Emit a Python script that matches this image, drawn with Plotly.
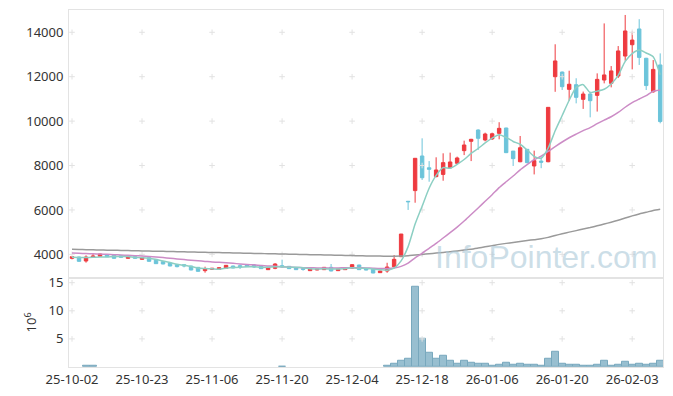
import plotly.graph_objects as go
from plotly.subplots import make_subplots

dates = [
    "25-10-02", "25-10-10", "25-10-13", "25-10-14", "25-10-15", "25-10-16", "25-10-17", "25-10-20", "25-10-21", "25-10-22",
    "25-10-23", "25-10-24", "25-10-27", "25-10-28", "25-10-29", "25-10-30", "25-10-31", "25-11-03", "25-11-04", "25-11-05",
    "25-11-06", "25-11-07", "25-11-10", "25-11-11", "25-11-12", "25-11-13", "25-11-14", "25-11-17", "25-11-18", "25-11-19",
    "25-11-20", "25-11-21", "25-11-24", "25-11-25", "25-11-26", "25-11-27", "25-11-28", "25-12-01", "25-12-02", "25-12-03",
    "25-12-04", "25-12-05", "25-12-08", "25-12-09", "25-12-10", "25-12-11", "25-12-12", "25-12-15", "25-12-16", "25-12-17",
    "25-12-18", "25-12-19", "25-12-22", "25-12-23", "25-12-24", "25-12-26", "25-12-29", "25-12-30", "26-01-02", "26-01-05",
    "26-01-06", "26-01-07", "26-01-08", "26-01-09", "26-01-12", "26-01-13", "26-01-14", "26-01-15", "26-01-16", "26-01-19",
    "26-01-20", "26-01-21", "26-01-22", "26-01-23", "26-01-26", "26-01-27", "26-01-28", "26-01-29", "26-01-30", "26-02-02",
    "26-02-03", "26-02-04", "26-02-05", "26-02-06", "26-02-09",
]

opens = [
    3820, 3880, 3700, 3865, 3910, 3970, 3955, 3940, 3820, 3895,
    3775, 3850, 3775, 3670, 3610, 3535, 3535, 3475, 3415, 3265,
    3325, 3325, 3370, 3475, 3490, 3520, 3520, 3490, 3310, 3370,
    3490, 3460, 3400, 3355, 3265, 3295, 3310, 3415, 3265, 3310,
    3370, 3520, 3355, 3325, 3175, 3250, 3440, 3895, 6390, 6870,
    8430, 7900, 7500, 7600, 7900, 8100, 8670, 9090, 9600, 9150,
    9200, 9450, 9690, 8650, 8170, 8730, 7980, 8200, 8170, 12000,
    12210, 11430, 11640, 10980, 11220, 11160, 11850, 11700, 12030, 12930,
    13440, 14150, 12830, 11320, 12530,
]
highs = [
    3925, 3895, 3955, 4030, 4030, 3985, 3960, 3950, 3905, 3905,
    3860, 3860, 3780, 3680, 3620, 3565, 3540, 3480, 3420, 3445,
    3385, 3410, 3520, 3490, 3535, 3530, 3565, 3500, 3425, 3600,
    3760, 3470, 3410, 3385, 3365, 3350, 3425, 3565, 3365, 3410,
    3550, 3530, 3365, 3335, 3260, 3620, 3970, 4915, 6400, 8325,
    9225, 8200, 8370, 8550, 8580, 8400, 9120, 9200, 9630, 9480,
    9480, 9950, 9700, 8650, 9330, 8740, 8670, 8400, 10620, 13460,
    12230, 12270, 11930, 11330, 11330, 12150, 14400, 12480, 13380, 14780,
    14030, 14590, 12850, 12750, 13050,
]
lows = [
    3775, 3670, 3625, 3835, 3900, 3880, 3810, 3850, 3810, 3810,
    3765, 3675, 3570, 3555, 3465, 3415, 3415, 3285, 3225, 3175,
    3310, 3315, 3360, 3375, 3340, 3435, 3385, 3345, 3300, 3330,
    3400, 3345, 3300, 3265, 3255, 3285, 3300, 3240, 3255, 3300,
    3360, 3300, 3285, 3150, 3165, 3170, 3420, 3880, 6000, 6325,
    7350, 7270, 7470, 7315, 7880, 8070, 8470, 8200, 8700, 9090,
    9150, 9180, 8560, 7980, 8150, 8100, 7600, 7880, 8150, 11320,
    11400, 10920, 10800, 10550, 10170, 10430, 11700, 11520, 11940, 12720,
    12330, 12530, 11400, 11280, 9900,
]
closes = [
    3895, 3685, 3880, 3925, 4015, 3895, 3820, 3865, 3895, 3820,
    3850, 3685, 3580, 3565, 3475, 3445, 3475, 3295, 3235, 3355,
    3370, 3400, 3505, 3385, 3445, 3445, 3430, 3355, 3415, 3565,
    3430, 3355, 3310, 3325, 3355, 3340, 3415, 3250, 3355, 3400,
    3535, 3310, 3295, 3160, 3250, 3430, 3775, 4915, 6370, 8325,
    7450, 7830, 7800, 8130, 8160, 8340, 8925, 9180, 9225, 9420,
    9430, 9675, 8580, 8310, 8800, 8130, 8220, 8150, 10620, 12710,
    11550, 11660, 11070, 11220, 10920, 11880, 12080, 12260, 13160, 14060,
    13650, 12870, 11600, 12330, 9980,
]

ma5 = [
    3870, 3860, 3855, 3865, 3880, 3880, 3907, 3904, 3898, 3859,
    3850, 3823, 3766, 3700, 3631, 3550, 3508, 3451, 3385, 3361,
    3346, 3331, 3373, 3403, 3421, 3436, 3442, 3412, 3418, 3442,
    3439, 3424, 3415, 3397, 3355, 3337, 3349, 3337, 3343, 3352,
    3391, 3370, 3379, 3340, 3310, 3289, 3382, 3706, 4348, 5363,
    6167, 6978, 7555, 7907, 7874, 8052, 8271, 8547, 8766, 9018,
    9236, 9386, 9266, 9083, 8959, 8699, 8408, 8322, 8784, 9566,
    10250, 10938, 11522, 11642, 11284, 11350, 11434, 11672, 12060, 12688,
    13042, 13200, 13068, 12902, 12086,
]
ma20 = [
    4055, 4045, 4035, 4025, 4015, 4000, 3985, 3970, 3955, 3940,
    3925, 3905, 3880, 3855, 3825, 3795, 3765, 3735, 3708, 3683,
    3657, 3642, 3624, 3597, 3568, 3546, 3526, 3501, 3477, 3464,
    3443, 3426, 3413, 3401, 3395, 3390, 3387, 3384, 3390, 3393,
    3401, 3396, 3386, 3375, 3365, 3364, 3381, 3459, 3607, 3845,
    4046, 4270, 4494, 4735, 4975, 5225, 5500, 5797, 6090, 6391,
    6686, 7004, 7269, 7526, 7804, 8039, 8261, 8423, 8635, 8854,
    9059, 9251, 9414, 9569, 9707, 9884, 10042, 10196, 10392, 10624,
    10835, 10995, 11146, 11347, 11406,
]
ma120 = [
    4225, 4218, 4211, 4204, 4197, 4190, 4183, 4176, 4169, 4162,
    4155, 4148, 4141, 4134, 4127, 4120, 4113, 4106, 4099, 4092,
    4085, 4078, 4071, 4064, 4057, 4050, 4043, 4036, 4029, 4022,
    4015, 4008, 4001, 3994, 3987, 3980, 3973, 3966, 3959, 3952,
    3945, 3938, 3931, 3925, 3920, 3918, 3916, 3921, 3938, 3972,
    3998, 4027, 4056, 4088, 4120, 4154, 4193, 4234, 4285, 4339,
    4393, 4449, 4494, 4535, 4581, 4621, 4661, 4700, 4765, 4851,
    4925, 5000, 5069, 5140, 5208, 5285, 5365, 5446, 5537, 5637,
    5733, 5820, 5895, 5977, 6035,
]

volume = [
    None, None, 0.15, 0.15, None, None, None, None, None, None,
    None, None, None, None, None, None, None, None, None, None,
    None, None, None, None, None, None, None, None, None, None,
    0.10, None, None, None, None, None, None, None, None, None,
    None, None, None, None, None, 0.26, 0.61, 1.14, 1.49, 14.3,
    4.94, 2.54, 1.49, 2.02, 1.14, 0.61, 1.14, 0.79, 0.61, 0.61,
    0.26, 0.44, 0.79, 0.44, 0.61, 0.38, 0.38, 0.20, 1.43, 2.66,
    0.61, 0.44, 0.38, 0.20, 0.20, 0.38, 1.08, 0.20, 0.38, 0.90,
    0.44, 0.61, 0.38, 0.61, 1.08,
]

price_ticks = [4000, 6000, 8000, 10000, 12000, 14000]
vol_ticks = [5, 10, 15]
x_ticks = dates[::10]

UP = "#ee3a3f"
DOWN = "#6cc4da"
FONT = "Noto Sans"

fig = make_subplots(rows=2, cols=1, shared_xaxes=True, vertical_spacing=0,
                    row_heights=[0.75, 0.25])

# grid crosses at tick intersections
for yt, row in ((price_ticks, 1), (vol_ticks, 2)):
    gx = [d for d in x_ticks for _ in yt]
    gy = [v for _ in x_ticks for v in yt]
    fig.add_trace(go.Scatter(x=gx, y=gy, mode="markers", hoverinfo="skip",
                             marker=dict(symbol="cross-thin", size=4,
                                         line=dict(color="#e2e2e2", width=1)),
                             showlegend=False), row=row, col=1)

fig.add_trace(go.Candlestick(
    x=dates, open=opens, high=highs, low=lows, close=closes,
    increasing=dict(line=dict(color=UP, width=1), fillcolor=UP),
    decreasing=dict(line=dict(color=DOWN, width=1), fillcolor=DOWN),
    whiskerwidth=0, showlegend=False, hoverinfo="skip"), row=1, col=1)

for vals, col in ((ma120, "#9a9a9a"), (ma20, "#cc8cc6"), (ma5, "#8ccfc3")):
    fig.add_trace(go.Scatter(x=dates, y=vals, mode="lines",
                             line=dict(color=col, width=1.5, shape="spline", smoothing=0.6),
                             showlegend=False, hoverinfo="skip"), row=1, col=1)

fig.add_trace(go.Bar(x=dates, y=volume,
                     marker=dict(color="#98bfd0", line=dict(color="#78a8bd", width=1)),
                     showlegend=False, hoverinfo="skip"), row=2, col=1)

axis_common = dict(showline=True, linecolor="#e3e3e3", linewidth=1, mirror=True,
                   showgrid=False, zeroline=False, ticks="", automargin=False,
                   tickfont=dict(family=FONT, size=13, color="#333333"))

fig.update_xaxes(type="category", categoryorder="array", categoryarray=dates,
                 range=[-0.43, 84.4], tickvals=x_ticks, ticktext=x_ticks,
                 rangeslider=dict(visible=False), **axis_common)
fig.update_xaxes(showticklabels=False, row=1, col=1)
fig.update_yaxes(range=[2946, 15004], tickvals=price_ticks,
                 ticktext=[str(v) for v in price_ticks], ticklabelstandoff=2,
                 **axis_common, row=1, col=1)
fig.update_yaxes(range=[0, 15.88], tickvals=vol_ticks,
                 ticktext=[str(v) for v in vol_ticks], ticklabelstandoff=2,
                 title=dict(text="10<sup>6</sup>", standoff=8,
                            font=dict(family=FONT, size=13, color="#333333")),
                 **axis_common, row=2, col=1)

fig.add_annotation(text="InfoPointer.com", xref="paper", yref="paper",
                   x=0.803, y=0.308, xanchor="center", yanchor="middle", showarrow=False,
                   font=dict(family="Liberation Sans", size=32,
                             color="rgba(170,200,216,0.6)"))

fig.update_layout(width=673, height=396, margin=dict(l=69, r=10, t=10, b=29),
                  paper_bgcolor="white", plot_bgcolor="white", bargap=0,
                  font=dict(family=FONT, color="#333333"))

fig.write_html("out.html", config={"displayModeBar": False},
               post_script="document.body.style.margin='0';")
